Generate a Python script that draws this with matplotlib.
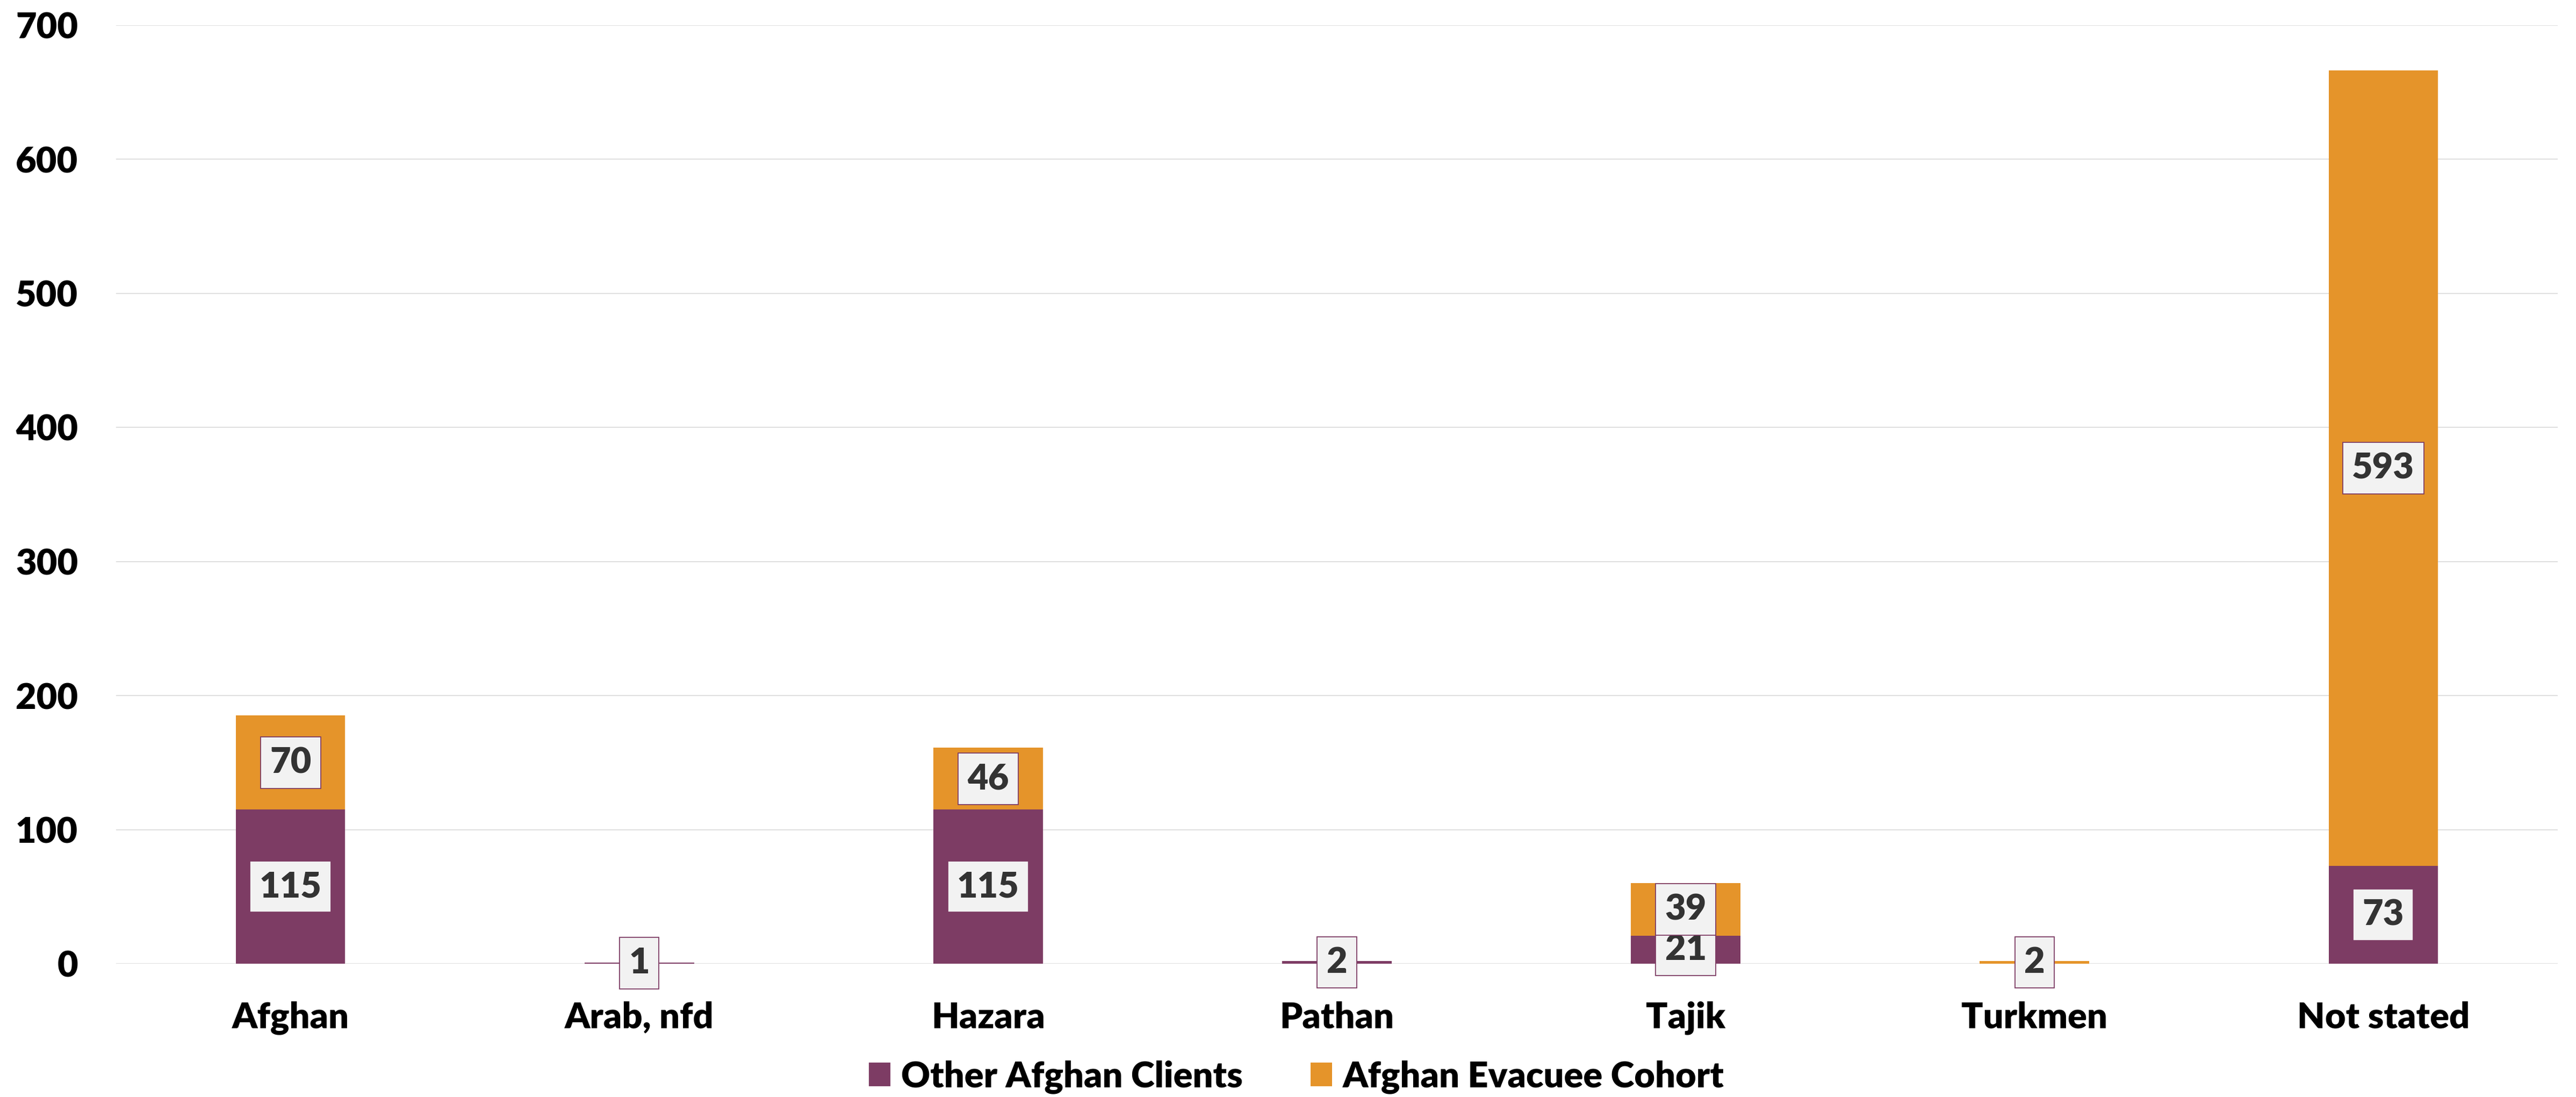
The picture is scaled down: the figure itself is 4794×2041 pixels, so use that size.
import matplotlib
matplotlib.use("Agg")
import matplotlib.pyplot as plt
import numpy as np

# Ethnicity of Afghan clients, by cohort
categories = ["Afghan", "Arab, nfd", "Hazara", "Pathan", "Tajik", "Turkmen", "Not stated"]
other_clients = [115, 1, 115, 2, 21, 0, 73]
evacuee_cohort = [70, 0, 46, 0, 39, 2, 593]
series_names = ["Other Afghan Clients", "Afghan Evacuee Cohort"]
y_ticks = [0, 100, 200, 300, 400, 500, 600, 700]

PURPLE = "#7D3C64"
ORANGE = "#E5942A"
GRID = "#D9D9D9"
LABEL_BG = "#F2F2F2"
LABEL_TXT = "#333333"
FONT = "Lato"
FS = 48
WEIGHT = "heavy"

plt.rcParams["font.family"] = [FONT, "DejaVu Sans"]
plt.rcParams["font.weight"] = WEIGHT

W, H, DPI = 4794, 2041, 100
fig = plt.figure(figsize=(W / DPI, H / DPI), dpi=DPI)
ax = fig.add_axes([216 / W, 1 - 1793 / H, (4760 - 216) / W, (1793 - 46.5) / H])

x = np.arange(len(categories))
bar_w = 0.314
b1 = ax.bar(x, other_clients, width=bar_w, color=PURPLE, label=series_names[0], zorder=2)
b2 = ax.bar(x, evacuee_cohort, width=bar_w, bottom=other_clients, color=ORANGE,
            label=series_names[1], zorder=2)

# Value labels centred on each segment
bbox = dict(boxstyle="square,pad=0.26", facecolor=LABEL_BG, edgecolor=PURPLE, linewidth=1.3)
z = 3
for vals, bottoms in ((other_clients, [0] * len(x)), (evacuee_cohort, other_clients)):
    for xi, v, b in zip(x, vals, bottoms):
        if v == 0:
            continue
        ax.text(xi, b + v / 2, f"{v}", ha="center", va="center", fontsize=FS,
                fontweight=WEIGHT, color=LABEL_TXT, bbox=bbox, zorder=z)
        z += 0.01
    z += 1

ax.set_xlim(-0.5, len(categories) - 0.5)
ax.set_ylim(0, 700)
ax.set_yticks(y_ticks)
ax.set_xticks(x)
ax.set_xticklabels(categories)
ax.tick_params(axis="both", length=0, labelsize=FS)
ax.tick_params(axis="y", pad=51)
ax.tick_params(axis="x", pad=50)
for lab in ax.get_xticklabels() + ax.get_yticklabels():
    lab.set_fontweight(WEIGHT)
    lab.set_color("black")

ax.grid(axis="y", color=GRID, linewidth=1.2, zorder=0)
ax.set_axisbelow(True)
for s in ax.spines.values():
    s.set_visible(False)

fig.legend(handles=[b1, b2], labels=series_names, loc="center",
           bbox_to_anchor=(2413 / W, 1 - 2004 / H), ncol=2, frameon=False,
           prop={"family": FONT, "weight": WEIGHT, "size": FS},
           handlelength=0.6, handleheight=0.63, handletextpad=0.3,
           columnspacing=1.9, borderpad=0)

fig.savefig("out.png", dpi=DPI, facecolor="white")
